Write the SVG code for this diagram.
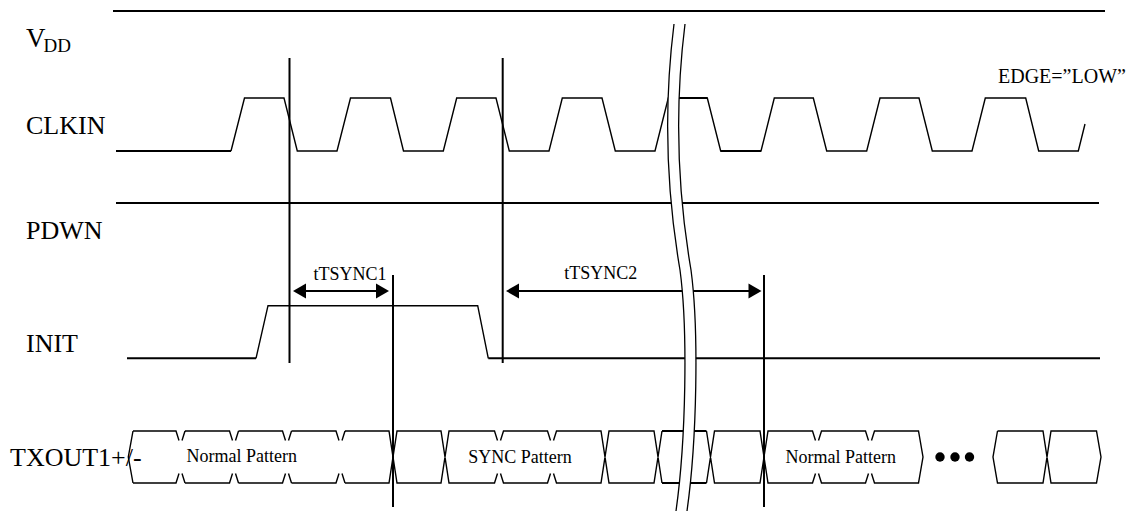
<svg xmlns="http://www.w3.org/2000/svg" width="1131" height="511" viewBox="0 0 1131 511">
<style>
text{font-family:"Liberation Serif","Times New Roman",serif;fill:#000}
.lbl{font-size:26px}
.sm{font-size:18px}
.w{fill:none;stroke:#000;stroke-width:1.4;stroke-linejoin:miter}
.th{fill:none;stroke:#000;stroke-width:2}
.bk{fill:none;stroke:#000;stroke-width:1.3}
</style>
<rect width="1131" height="511" fill="#fff"/>

<g id="vdd">
<line class="th" x1="113" y1="11" x2="1105" y2="11"/>
<text class="lbl" x="26" y="47" style="font-size:27px">V</text>
<text x="43.5" y="51.7" style="font-size:19px">DD</text>
</g>

<g id="clkin">
<text class="lbl" x="26" y="134">CLKIN</text>
<line class="th" x1="116" y1="151" x2="231" y2="151"/>
<path class="w" d="M231,151 L244.5,98 H284 L297.3,151 H337 L350.5,98 H390.5 L403.5,151 H443.3 L456.7,98 H496 L509.3,151 H549 L562.3,98 H602 L615.3,151 H655 L668.3,98 H707.3 L720.7,151 H761 L774.3,98 H813.3 L826.7,151 H866.7 L880,98 H919 L932.3,151 H972 L985.3,98 H1025.7 L1038.7,151 H1078.3 L1085,124"/>
<path class="th" d="M679,98 H707.3 M720.7,151 H761"/>
<text class="sm" x="998" y="83" style="font-size:20px">EDGE=”LOW”</text>
</g>

<g id="pdwn">
<text class="lbl" x="26" y="239">PDWN</text>
<line class="th" x1="116" y1="203" x2="1099" y2="203"/>
</g>

<g id="init">
<text class="lbl" x="26" y="351.5">INIT</text>
<line class="th" x1="127" y1="358.3" x2="256" y2="358.3"/>
<path class="w" d="M256,358.3 L268,305.7 H477.7 L488.3,358.3"/>
<line class="th" x1="488.3" y1="358.3" x2="1100" y2="358.3"/>
</g>

<g id="txout">
<text class="lbl" x="10" y="466">TXOUT1+/-</text>
<path class="w" d="
M133,431 L128.3,457 L133,483
M133,431 H176 L179,440.5 M182,440.5 L185,431
M133,483 H176 L179,473.5 M182,473.5 L185,483
M185,431 H229.5 L232.5,440.5 M235.5,440.5 L238.5,431
M185,483 H229.5 L232.5,473.5 M235.5,473.5 L238.5,483
M238.5,431 H282.5 L285.5,440.5 M288.5,440.5 L291.5,431
M238.5,483 H282.5 L285.5,473.5 M288.5,473.5 L291.5,483
M291.5,431 H336 L339,440.5 M342,440.5 L345,431
M291.5,483 H336 L339,473.5 M342,473.5 L345,483
M345,431 H389 L397,483 H441 L449,431 H494.5 L497.5,440.5 M500.5,440.5 L503.5,431 H547.5 L550.5,440.5 M553.5,440.5 L556.5,431 H601 L609,483 H654 L662,431
M345,483 H389 L397,431 H441 L449,483 H494.5 L497.5,473.5 M500.5,473.5 L503.5,483 H547.5 L550.5,473.5 M553.5,473.5 L556.5,483 H601 L609,431 H654 L662,483
M706.5,431 L714.5,483 H760 L768,431 H812.5 L815.5,440.5 M818.5,440.5 L821.5,431 H865.5 L868.5,440.5 M871.5,440.5 L874.5,431 H918.5 L923,457 L918.5,483 H874.5 L871.5,473.5 M868.5,473.5 L865.5,483 H821.5 L818.5,473.5 M815.5,473.5 L812.5,483 H768 L760,431 H714.5 L706.5,483
M997.5,431 L993,457 L997.5,483 H1043 L1051,431 H1096.5 L1101,457 L1096.5,483 H1051 L1043,431 H997.5"/>
<path class="th" d="M662,431 H706.5 M662,483 H706.5"/>
<text class="sm" x="241.7" y="462.3" text-anchor="middle">Normal Pattern</text>
<text class="sm" x="520" y="462.7" text-anchor="middle">SYNC Pattern</text>
<text class="sm" x="840.7" y="462.7" text-anchor="middle">Normal Pattern</text>
<circle cx="940" cy="457" r="4.7"/>
<circle cx="955" cy="457" r="4.7"/>
<circle cx="969.5" cy="457" r="4.7"/>
</g>

<g id="connectors">
<line class="th" x1="289.5" y1="58" x2="289.5" y2="363"/>
<line class="th" x1="502.7" y1="58" x2="502.7" y2="363"/>
<line class="th" x1="393" y1="275" x2="393" y2="507"/>
<line class="th" x1="764" y1="275" x2="764" y2="507"/>
<line class="th" x1="300" y1="291" x2="382" y2="291"/>
<polygon points="293,291 306,283.5 306,298.5"/>
<polygon points="389,291 376,283.5 376,298.5"/>
<text class="sm" x="350" y="280" text-anchor="middle">tTSYNC1</text>
<line class="th" x1="513" y1="291" x2="755" y2="291"/>
<polygon points="506,291 519,283.5 519,298.5"/>
<polygon points="761.5,291 748.5,283.5 748.5,298.5"/>
<text class="sm" x="600.8" y="279.3" text-anchor="middle">tTSYNC2</text>
</g>

<g id="break">
<path fill="#fff" stroke="none" d="M674,24 C662,120 668,200 680,270 C688,330 686,440 676,511 L687,511 C697,440 699,330 691,270 C679,200 673,120 685,24 Z"/>
<path class="bk" d="M674,24 C662,120 668,200 680,270 C688,330 686,440 676,511"/>
<path class="bk" d="M685,24 C673,120 679,200 691,270 C699,330 697,440 687,511"/>
</g>
</svg>
